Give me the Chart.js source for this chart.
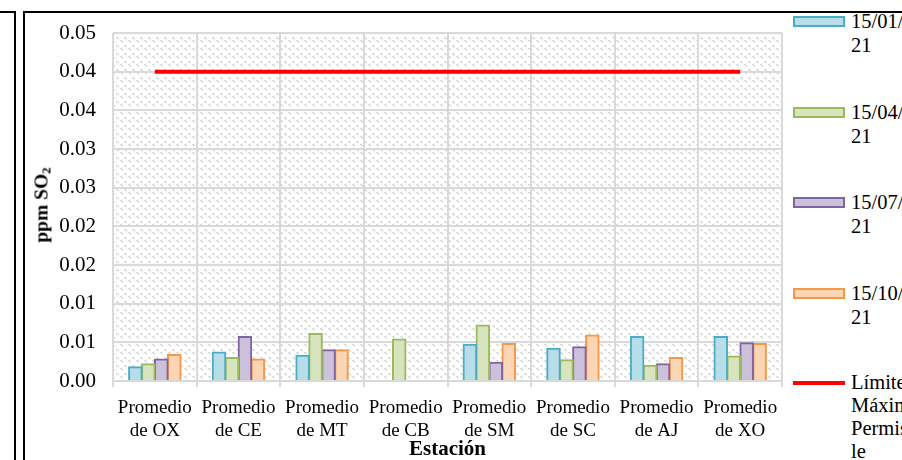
<!DOCTYPE html>
<html>
<head>
<meta charset="utf-8">
<script src="https://cdn.jsdelivr.net/npm/chart.js@4.4.0/dist/chart.umd.min.js"></script>
<style>
  html, body { margin: 0; padding: 0; background: #fff; overflow: hidden; }
  body { width: 902px; height: 460px; position: relative; font-family: "Liberation Serif", "Times New Roman", serif; }
  #wrap { position: absolute; left: 0; top: 0; width: 790px; height: 460px; }
  .rule { position: absolute; background: #000; }
  .lg-box { position: absolute; left: 793px; width: 48px; height: 7px; border: 2px solid; }
  .lg-txt { position: absolute; left: 851px; font-size: 20.5px; line-height: 23px; white-space: nowrap; color: #000; }
  #ytitle { position: absolute; left: 44px; top: 205px; transform: translate(-50%, -50%) rotate(-90deg);
            font-weight: bold; font-size: 19.5px; white-space: nowrap; line-height: 22px; }
  #ytitle sub { font-size: 13px; vertical-align: -3px; }
</style>
</head>
<body>
<div class="rule" style="left:0;top:11px;width:16px;height:2px"></div>
<div class="rule" style="left:14px;top:11px;width:2px;height:449px"></div>
<div class="rule" style="left:23px;top:11px;width:879px;height:2px"></div>
<div class="rule" style="left:23px;top:11px;width:2px;height:449px"></div>
<div id="wrap"><canvas id="chart"></canvas></div>
<div id="ytitle">ppm SO<sub>2</sub></div>
<div id="legend"></div>
<script>
const estaciones = [
  ["Promedio", "de OX"], ["Promedio", "de CE"], ["Promedio", "de MT"], ["Promedio", "de CB"],
  ["Promedio", "de SM"], ["Promedio", "de SC"], ["Promedio", "de AJ"], ["Promedio", "de XO"]
];
const fechas = ["15/01/2021", "15/04/2021", "15/07/2021", "15/10/2021"];
const ene = [0.0018, 0.0037, 0.0033, null, 0.0047, 0.0042, 0.0057, 0.0057];
const abr = [0.0022, 0.0030, 0.0061, 0.0054, 0.0072, 0.0027, 0.0020, 0.0032];
const jul = [0.0028, 0.0057, 0.0040, null, 0.0024, 0.0044, 0.0022, 0.0049];
const oct = [0.0034, 0.0028, 0.0040, null, 0.0048, 0.0059, 0.0030, 0.0048];
const limite = [0.04, 0.04, 0.04, 0.04, 0.04, 0.04, 0.04, 0.04];

const fills = ["#b7dde8", "#d7e4bd", "#ccc1da", "#fcd5b5"];
const borders = ["#4bacc6", "#9bbb59", "#8064a2", "#f79646"];
const series = [ene, abr, jul, oct];

// hatch pattern for plot background
const tile = document.createElement("canvas");
tile.width = 8; tile.height = 8;
const tctx = tile.getContext("2d");
tctx.fillStyle = "#fff";
tctx.fillRect(0, 0, 8, 8);
tctx.fillStyle = "#d6d6d6";
[[0,0],[1,1],[4,5],[5,6]].forEach(p => tctx.fillRect(p[0], p[1], 2, 1));
tctx.fillStyle = "#ebebeb";
[[2,2],[6,7]].forEach(p => tctx.fillRect(p[0], p[1], 1, 1));

const bgPlugin = {
  id: "bgPattern",
  beforeDraw(chart) {
    const a = chart.chartArea;
    const c = chart.ctx;
    c.save();
    c.fillStyle = c.createPattern(tile, "repeat");
    c.fillRect(a.left, a.top, a.right - a.left, a.bottom - a.top);
    c.restore();
  }
};

const datasets = series.map((d, i) => ({
  type: "bar",
  label: fechas[i],
  data: d,
  backgroundColor: fills[i],
  borderColor: borders[i],
  borderWidth: 2,
  barPercentage: 1,
  categoryPercentage: 0.62,
  inflateAmount: 0.8,
  order: 2
}));
datasets.push({
  type: "line",
  label: "Límite Máximo Permisible",
  data: limite,
  borderColor: "#ff0000",
  borderWidth: 4,
  pointRadius: 0,
  fill: false,
  order: 1
});

const serif = "'Liberation Serif', 'Times New Roman', serif";

new Chart(document.getElementById("chart"), {
  data: { labels: estaciones, datasets: datasets },
  plugins: [bgPlugin],
  options: {
    responsive: true,
    maintainAspectRatio: false,
    animation: false,
    layout: { padding: { left: 30, right: 8, top: 33, bottom: 0 } },
    plugins: { legend: { display: false }, tooltip: { enabled: false } },
    scales: {
      x: {
        grid: { offset: true, color: "#d9d9d9", lineWidth: 2, tickLength: 6, drawTicks: true },
        border: { color: "#d9d9d9", width: 2 },
        ticks: { color: "#000", font: { family: serif, size: 19, lineHeight: 1.21 }, padding: 10, maxRotation: 0, autoSkip: false },
        title: { display: true, text: "Estación", color: "#000", font: { family: serif, size: 21, weight: "bold", lineHeight: 1.0 }, padding: { top: 0, bottom: 0 } },
        afterFit(scale) { scale.height = 79; }
      },
      y: {
        min: 0,
        max: 0.045,
        grid: { color: "#d9d9d9", lineWidth: 2, drawTicks: false },
        border: { display: false },
        ticks: {
          stepSize: 0.005,
          color: "#000",
          padding: 17,
          font: { family: serif, size: 21 },
          callback: v => (Math.round(v * 100 + 1e-6) / 100).toFixed(2)
        },
        title: { display: false },
        afterFit(scale) { scale.width = 83; }
      }
    }
  }
});

// legend on the right, clipped by the page edge like the reference
const legend = document.getElementById("legend");
const boxTops = [16, 107, 197, 288];
fechas.forEach((f, i) => {
  const box = document.createElement("div");
  box.className = "lg-box";
  box.style.top = boxTops[i] + "px";
  box.style.background = fills[i];
  box.style.borderColor = borders[i];
  legend.appendChild(box);
  [f.slice(0, 8), f.slice(8)].forEach((t, k) => {
    const s = document.createElement("div");
    s.className = "lg-txt";
    s.style.top = (boxTops[i] - 6 + k * 24) + "px";
    s.textContent = t;
    legend.appendChild(s);
  });
});
const red = document.createElement("div");
red.style.cssText = "position:absolute;left:793px;top:381px;width:52px;height:4px;background:#ff0000";
legend.appendChild(red);
["Límite", "Máximo", "Permisib", "le"].forEach((t, k) => {
  const s = document.createElement("div");
  s.className = "lg-txt";
  s.style.top = (371 + k * 23) + "px";
  s.textContent = t;
  legend.appendChild(s);
});
</script>
</body>
</html>
